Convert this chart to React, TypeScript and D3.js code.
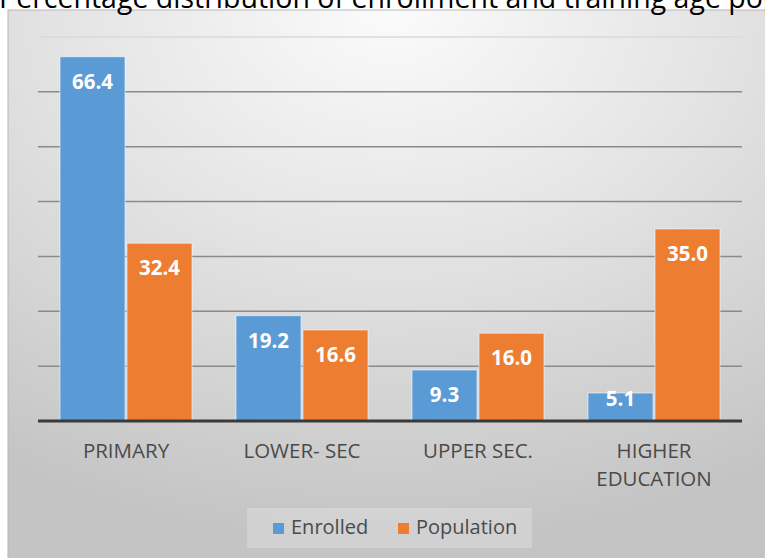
import React from "react";
import * as d3 from "d3";

// Percentage distribution of enrollment vs. training-age population by level
const categories: string[][] = [["PRIMARY"], ["LOWER- SEC"], ["UPPER SEC."], ["HIGHER", "EDUCATION"]];
const seriesNames = ["Enrolled", "Population"];
const enrolled = [66.4, 19.2, 9.3, 5.1];
const population = [32.4, 16.6, 16.0, 35.0];
const yTicks = [0, 10, 20, 30, 40, 50, 60, 70];
const title = "Percentage distribution of enrollment and training age population";

const colors = ["#5b9bd5", "#ed7d31"];
const W = 765;
const H = 558;
const font = "'Open Sans', 'Noto Sans', sans-serif";

export default function App() {
  const plotLeft = 38;
  const plotRight = 742;
  const x0 = d3
    .scaleBand<number>()
    .domain(d3.range(categories.length))
    .range([plotLeft, plotRight])
    .paddingInner(0.25)
    .paddingOuter(0.125);
  const x1 = d3
    .scaleBand<number>()
    .domain([0, 1])
    .range([0, x0.bandwidth()])
    .paddingInner(0.03);
  const y = d3.scaleLinear().domain([0, 70]).range([421, 37]);

  const series = [enrolled, population];

  return (
    <svg
      width={W}
      height={H}
      style={{ position: "absolute", left: 0, top: 0, display: "block" }}
    >
      <defs>
        <radialGradient id="panelBg" cx="50%" cy="0%" r="95%" fx="50%" fy="0%">
          <stop offset="0%" stopColor="#fbfbfb" />
          <stop offset="45%" stopColor="#e4e4e4" />
          <stop offset="100%" stopColor="#c4c4c4" />
        </radialGradient>
      </defs>
      <rect x={0} y={0} width={W} height={H} fill="#ffffff" />
      {/* chart panel */}
      <rect x={8} y={10} width={W} height={H} fill="url(#panelBg)" stroke="#b8b8b8" strokeWidth={1} />

      {/* title, running off the top edge */}
      <text x={-1} y={8} fontFamily={font} fontSize={28.5} fill="#000">
        {title}
      </text>

      {/* gridlines */}
      {yTicks.slice(1).map((t) => (
        <line
          key={t}
          x1={plotLeft}
          x2={plotRight}
          y1={y(t)}
          y2={y(t)}
          stroke={t === 70 ? "#dadada" : "#8a8a8a"}
          strokeWidth={1.5}
        />
      ))}

      {/* bars */}
      {categories.map((_, i) => (
        <g key={i} transform={`translate(${x0(i)},0)`}>
          {series.map((vals, s) => {
            const v = vals[i];
            const bx = x1(s)!;
            const bw = x1.bandwidth();
            const top = y(v);
            const labelY = Math.min(top + 32, y(0) - 15);
            return (
              <g key={s}>
                <rect
                  x={bx}
                  y={top}
                  width={bw}
                  height={y(0) - top}
                  fill={colors[s]}
                  stroke="rgba(255,255,255,0.55)"
                  strokeWidth={1}
                />
                <text
                  x={bx + bw / 2}
                  y={labelY}
                  textAnchor="middle"
                  fontFamily={font}
                  fontWeight={700}
                  fontSize={20.5}
                  fill="#ffffff"
                >
                  {v.toFixed(1)}
                </text>
              </g>
            );
          })}
        </g>
      ))}

      {/* baseline */}
      <line x1={plotLeft} x2={plotRight} y1={y(0)} y2={y(0)} stroke="#3a3a3a" strokeWidth={3} />

      {/* category labels */}
      {categories.map((lines, i) => (
        <text
          key={i}
          x={x0(i)! + x0.bandwidth() / 2}
          y={458}
          textAnchor="middle"
          fontFamily={font}
          fontSize={20.5}
          fill="#4a4a4a"
        >
          {lines.map((ln, k) => (
            <tspan key={k} x={x0(i)! + x0.bandwidth() / 2} dy={k === 0 ? 0 : 28}>
              {ln}
            </tspan>
          ))}
        </text>
      ))}

      {/* legend */}
      <g>
        <rect x={247} y={508} width={285} height={40} fill="rgba(255,255,255,0.22)" />
        {seriesNames.map((name, s) => {
          const lx = s === 0 ? 273 : 398;
          return (
            <g key={name}>
              <rect x={lx} y={523} width={11} height={11} fill={colors[s]} />
              <text x={lx + 18} y={534} fontFamily={font} fontSize={20} fill="#4a4a4a">
                {name}
              </text>
            </g>
          );
        })}
      </g>
    </svg>
  );
}
